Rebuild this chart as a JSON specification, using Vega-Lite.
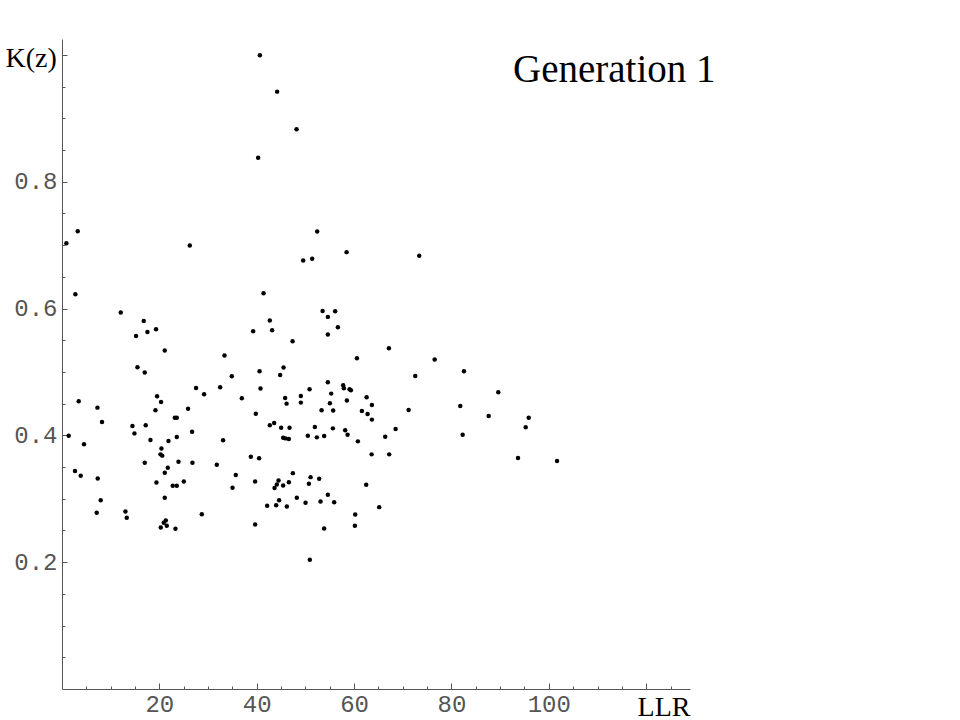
{
  "$schema": "https://vega.github.io/schema/vega-lite/v6.json",
  "width": 628,
  "height": 650,
  "autosize": "none",
  "padding": {"left": 62, "top": 39, "right": 270, "bottom": 31},
  "background": "white",
  "config": {"view": {"stroke": null}},
  "title": {
    "text": "Generation 1",
    "frame": "group",
    "anchor": "start",
    "align": "left",
    "baseline": "alphabetic",
    "offset": 0,
    "dx": 451,
    "dy": 82,
    "font": "Liberation Serif",
    "fontSize": 39,
    "fontWeight": "normal",
    "color": "black"
  },
  "data": {
    "values": [
      {"LLR": 0.9, "K": 0.703}, {"LLR": 3.23, "K": 0.722}, {"LLR": 26.25, "K": 0.6995}, {"LLR": 2.75, "K": 0.6226},
      {"LLR": 12.07, "K": 0.5937}, {"LLR": 16.79, "K": 0.5805}, {"LLR": 17.55, "K": 0.5631}, {"LLR": 19.32, "K": 0.5673},
      {"LLR": 15.21, "K": 0.5568}, {"LLR": 21.11, "K": 0.5337}, {"LLR": 33.38, "K": 0.5258}, {"LLR": 15.5, "K": 0.5073},
      {"LLR": 17.0, "K": 0.499}, {"LLR": 27.54, "K": 0.4747}, {"LLR": 32.48, "K": 0.4758}, {"LLR": 29.19, "K": 0.4647},
      {"LLR": 19.53, "K": 0.4616}, {"LLR": 20.35, "K": 0.4526}, {"LLR": 3.43, "K": 0.4537}, {"LLR": 7.28, "K": 0.4437},
      {"LLR": 19.2, "K": 0.4394}, {"LLR": 25.9, "K": 0.4421}, {"LLR": 23.17, "K": 0.4279}, {"LLR": 23.58, "K": 0.4279},
      {"LLR": 8.22, "K": 0.421}, {"LLR": 14.47, "K": 0.4147}, {"LLR": 17.2, "K": 0.4158}, {"LLR": 14.88, "K": 0.4031},
      {"LLR": 26.72, "K": 0.4058}, {"LLR": 1.38, "K": 0.3995}, {"LLR": 23.58, "K": 0.3973}, {"LLR": 18.17, "K": 0.3925},
      {"LLR": 21.87, "K": 0.391}, {"LLR": 33.09, "K": 0.3921}, {"LLR": 4.52, "K": 0.3858}, {"LLR": 20.43, "K": 0.3794},
      {"LLR": 20.23, "K": 0.37}, {"LLR": 20.6, "K": 0.368}, {"LLR": 17.0, "K": 0.3569}, {"LLR": 23.93, "K": 0.3584},
      {"LLR": 26.8, "K": 0.3569}, {"LLR": 31.8, "K": 0.3537}, {"LLR": 21.73, "K": 0.349}, {"LLR": 2.67, "K": 0.3436},
      {"LLR": 3.84, "K": 0.3363}, {"LLR": 21.11, "K": 0.3411}, {"LLR": 7.34, "K": 0.3321}, {"LLR": 19.4, "K": 0.3258},
      {"LLR": 25.02, "K": 0.3273}, {"LLR": 22.75, "K": 0.3205}, {"LLR": 23.58, "K": 0.3205}, {"LLR": 21.11, "K": 0.3016},
      {"LLR": 7.95, "K": 0.2978}, {"LLR": 7.13, "K": 0.2779}, {"LLR": 13.03, "K": 0.28}, {"LLR": 13.3, "K": 0.27},
      {"LLR": 28.72, "K": 0.2757}, {"LLR": 21.32, "K": 0.2658}, {"LLR": 20.9, "K": 0.2621}, {"LLR": 21.52, "K": 0.2574},
      {"LLR": 20.29, "K": 0.2547}, {"LLR": 23.31, "K": 0.2526}, {"LLR": 40.64, "K": 0.9995}, {"LLR": 44.19, "K": 0.942},
      {"LLR": 48.18, "K": 0.8827}, {"LLR": 40.29, "K": 0.8378}, {"LLR": 52.42, "K": 0.7216}, {"LLR": 58.46, "K": 0.6889},
      {"LLR": 49.54, "K": 0.6758}, {"LLR": 51.39, "K": 0.6783}, {"LLR": 41.4, "K": 0.6242}, {"LLR": 53.53, "K": 0.5962},
      {"LLR": 56.11, "K": 0.5958}, {"LLR": 54.61, "K": 0.5868}, {"LLR": 42.69, "K": 0.5811}, {"LLR": 39.26, "K": 0.5642},
      {"LLR": 43.17, "K": 0.5658}, {"LLR": 56.67, "K": 0.5705}, {"LLR": 54.61, "K": 0.559}, {"LLR": 47.36, "K": 0.5484},
      {"LLR": 67.15, "K": 0.5373}, {"LLR": 60.58, "K": 0.5216}, {"LLR": 45.51, "K": 0.5069}, {"LLR": 40.58, "K": 0.501},
      {"LLR": 44.81, "K": 0.4952}, {"LLR": 34.88, "K": 0.4931}, {"LLR": 40.78, "K": 0.4737}, {"LLR": 36.94, "K": 0.4584},
      {"LLR": 45.84, "K": 0.4589}, {"LLR": 46.13, "K": 0.45}, {"LLR": 49.06, "K": 0.462}, {"LLR": 49.06, "K": 0.4516},
      {"LLR": 50.85, "K": 0.4726}, {"LLR": 54.61, "K": 0.4837}, {"LLR": 57.76, "K": 0.4789}, {"LLR": 57.9, "K": 0.4742},
      {"LLR": 59.07, "K": 0.4726}, {"LLR": 59.34, "K": 0.471}, {"LLR": 55.29, "K": 0.4658}, {"LLR": 55.03, "K": 0.4505},
      {"LLR": 58.52, "K": 0.4548}, {"LLR": 62.57, "K": 0.46}, {"LLR": 63.66, "K": 0.4478}, {"LLR": 39.81, "K": 0.4342},
      {"LLR": 53.32, "K": 0.4394}, {"LLR": 55.7, "K": 0.439}, {"LLR": 61.6, "K": 0.4383}, {"LLR": 62.77, "K": 0.4336},
      {"LLR": 63.66, "K": 0.4248}, {"LLR": 42.69, "K": 0.4158}, {"LLR": 43.58, "K": 0.4194}, {"LLR": 45.02, "K": 0.4121},
      {"LLR": 46.74, "K": 0.4121}, {"LLR": 45.43, "K": 0.3963}, {"LLR": 45.92, "K": 0.3952}, {"LLR": 46.6, "K": 0.3941},
      {"LLR": 51.94, "K": 0.4131}, {"LLR": 55.64, "K": 0.411}, {"LLR": 50.5, "K": 0.3995}, {"LLR": 52.35, "K": 0.3968},
      {"LLR": 53.85, "K": 0.3989}, {"LLR": 58.17, "K": 0.4079}, {"LLR": 58.66, "K": 0.4011}, {"LLR": 60.78, "K": 0.3905},
      {"LLR": 68.53, "K": 0.4099}, {"LLR": 66.39, "K": 0.3979}, {"LLR": 63.6, "K": 0.37}, {"LLR": 67.21, "K": 0.37},
      {"LLR": 38.79, "K": 0.3663}, {"LLR": 40.49, "K": 0.3637}, {"LLR": 35.7, "K": 0.3373}, {"LLR": 35.03, "K": 0.3174},
      {"LLR": 39.67, "K": 0.3273}, {"LLR": 47.42, "K": 0.3404}, {"LLR": 44.48, "K": 0.3289}, {"LLR": 44.13, "K": 0.3226},
      {"LLR": 43.66, "K": 0.3168}, {"LLR": 45.43, "K": 0.321}, {"LLR": 46.6, "K": 0.3262}, {"LLR": 51.06, "K": 0.3341},
      {"LLR": 50.71, "K": 0.3237}, {"LLR": 52.83, "K": 0.3316}, {"LLR": 62.49, "K": 0.3221}, {"LLR": 48.24, "K": 0.3016},
      {"LLR": 44.6, "K": 0.2978}, {"LLR": 42.14, "K": 0.289}, {"LLR": 43.99, "K": 0.2899}, {"LLR": 46.19, "K": 0.2879},
      {"LLR": 50.03, "K": 0.2937}, {"LLR": 54.61, "K": 0.3063}, {"LLR": 53.11, "K": 0.2958}, {"LLR": 55.91, "K": 0.2946},
      {"LLR": 65.16, "K": 0.2868}, {"LLR": 60.23, "K": 0.2752}, {"LLR": 60.16, "K": 0.2574}, {"LLR": 39.67, "K": 0.2594},
      {"LLR": 53.85, "K": 0.2531}, {"LLR": 50.91, "K": 0.2037}, {"LLR": 73.38, "K": 0.6831}, {"LLR": 76.55, "K": 0.5195},
      {"LLR": 72.56, "K": 0.4936}, {"LLR": 82.57, "K": 0.501}, {"LLR": 89.62, "K": 0.4679}, {"LLR": 71.2, "K": 0.4399},
      {"LLR": 81.81, "K": 0.4462}, {"LLR": 87.65, "K": 0.4304}, {"LLR": 95.87, "K": 0.4279}, {"LLR": 95.25, "K": 0.4126},
      {"LLR": 82.3, "K": 0.4011}, {"LLR": 93.67, "K": 0.3641}, {"LLR": 101.69, "K": 0.3594}
    ]
  },
  "mark": {"type": "point", "shape": "circle", "filled": true, "size": 20, "color": "black", "opacity": 1},
  "encoding": {
    "x": {
      "field": "LLR",
      "type": "quantitative",
      "scale": {"domain": [0, 129], "nice": false, "zero": false},
      "axis": {
        "title": "LLR",
        "titleFont": "Liberation Serif",
        "titleFontSize": 28,
        "titleFontWeight": "normal",
        "titleColor": "black",
        "titleAlign": "right",
        "titleAnchor": null,
        "titleBaseline": "alphabetic",
        "titleX": 628,
        "titleY": 26,
        "grid": false,
        "domainColor": "#555",
        "domainWidth": 1,
        "tickColor": "#555",
        "tickWidth": 1,
        "values": [5, 10, 15, 20, 25, 30, 35, 40, 45, 50, 55, 60, 65, 70, 75, 80, 85, 90, 95, 100, 105, 110, 115, 120, 125],
        "tickSize": {"condition": {"test": "datum.value % 20 == 0", "value": -6}, "value": -3},
        "labelExpr": "(datum.value % 20 == 0 && datum.value <= 100) ? datum.label : ''",
        "labelFont": "Liberation Mono",
        "labelFontSize": 24,
        "labelColor": "#555",
        "labelBaseline": "alphabetic",
        "labelPadding": 28,
        "labelFlush": false,
        "labelOverlap": false
      }
    },
    "y": {
      "field": "K",
      "type": "quantitative",
      "scale": {"domain": [0, 1.025], "nice": false, "zero": false},
      "axis": {
        "title": "K(z)",
        "titleFont": "Liberation Serif",
        "titleFontSize": 28,
        "titleFontWeight": "normal",
        "titleColor": "black",
        "titleAngle": 0,
        "titleAlign": "left",
        "titleAnchor": null,
        "titleBaseline": "alphabetic",
        "titleX": -57,
        "titleY": 27,
        "grid": false,
        "domainColor": "#555",
        "domainWidth": 1,
        "tickColor": "#555",
        "tickWidth": 1,
        "values": [0.05, 0.1, 0.15, 0.2, 0.25, 0.3, 0.35, 0.4, 0.45, 0.5, 0.55, 0.6, 0.65, 0.7, 0.75, 0.8, 0.85, 0.9, 0.95, 1.0],
        "tickSize": {"condition": {"test": "abs(datum.value * 5 - round(datum.value * 5)) < 0.001", "value": -5}, "value": -3},
        "labelExpr": "(abs(datum.value * 5 - round(datum.value * 5)) < 0.001 && datum.value < 0.9) ? format(datum.value, '.1f') : ''",
        "labelFont": "Liberation Mono",
        "labelFontSize": 24,
        "labelColor": "#555",
        "labelBaseline": "middle",
        "labelPadding": 10,
        "labelFlush": false,
        "labelOverlap": false
      }
    }
  }
}
